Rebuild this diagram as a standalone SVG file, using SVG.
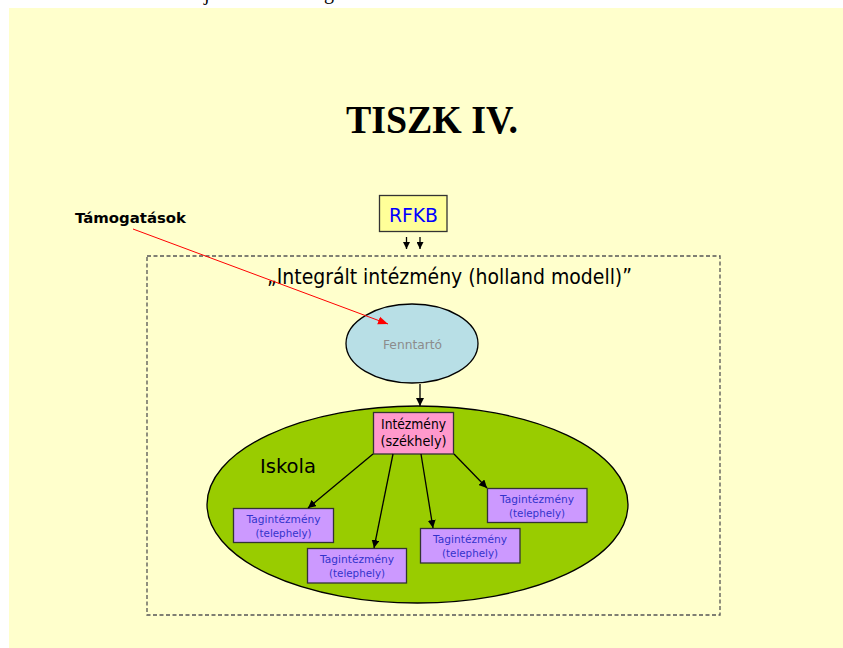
<svg xmlns="http://www.w3.org/2000/svg" width="843" height="648" viewBox="0 0 843 648">
<defs>
<marker id="ah" viewBox="0 0 10 10" refX="10" refY="5" markerWidth="8" markerHeight="8" markerUnits="userSpaceOnUse" orient="auto"><path d="M0,0 L10,5 L0,10 z" fill="#000"/></marker>
<marker id="ahs" viewBox="0 0 10 10" refX="10" refY="5" markerWidth="7" markerHeight="7" markerUnits="userSpaceOnUse" orient="auto"><path d="M0,0 L10,5 L0,10 z" fill="#000"/></marker>
<marker id="ahr" viewBox="0 0 10 10" refX="10" refY="5" markerWidth="10" markerHeight="10" markerUnits="userSpaceOnUse" orient="auto"><path d="M0,1 L10,5 L0,9 z" fill="#FF0000"/></marker>
</defs>
<style>
.sans{font-family:"DejaVu Sans","Liberation Sans",sans-serif}
.tag rect{fill:#CC99FF;stroke:#333;stroke-width:1.3}
.tag text{font-family:"DejaVu Sans","Liberation Sans",sans-serif;font-size:11px;fill:#3333CC;text-anchor:middle}
.conn line{stroke:#000;stroke-width:1.3;fill:none}
.conn line.red{stroke:#FF0000;stroke-width:1}
</style>
<rect x="0" y="0" width="843" height="648" fill="#FFFFFF"/>
<rect x="9" y="8" width="834" height="640" fill="#FFFFCC"/>
<text x="204" y="0" font-family="Liberation Serif,serif" font-size="20" fill="#000">j</text>
<text x="324" y="-1" font-family="Liberation Serif,serif" font-size="20" fill="#000">g</text>
<text x="432" y="133" font-family="Liberation Serif,serif" font-size="40" font-weight="bold" text-anchor="middle" textLength="172" lengthAdjust="spacingAndGlyphs">TISZK IV.</text>
<g id="frame">
<rect x="147" y="256" width="573" height="359" fill="none" stroke="#555" stroke-width="1.3" stroke-dasharray="4,2.5"/>
<text x="267" y="284" class="sans" font-size="21" fill="#000" textLength="365" lengthAdjust="spacingAndGlyphs">„Integrált intézmény (holland modell)”</text>
</g>
<g id="iskola">
<ellipse cx="417.5" cy="504.5" rx="210.5" ry="98.5" fill="#99CC00" stroke="#000" stroke-width="1.3"/>
<text x="260" y="473" class="sans" font-size="19" fill="#000" textLength="56" lengthAdjust="spacingAndGlyphs">Iskola</text>
</g>
<g id="rfkb">
<rect x="379.5" y="195.5" width="67.5" height="36" fill="#FFFF99" stroke="#333" stroke-width="1.3"/>
<text x="413.5" y="221.5" class="sans" font-size="20" fill="#0000FF" text-anchor="middle" textLength="49" lengthAdjust="spacingAndGlyphs">RFKB</text>
</g>
<g id="tamogatasok">
<text x="75" y="223" class="sans" font-size="14" font-weight="bold" fill="#000" textLength="111" lengthAdjust="spacingAndGlyphs">Támogatások</text>
</g>
<g id="fenntarto">
<ellipse cx="412" cy="343.5" rx="66" ry="39.5" fill="#B8DFE6" stroke="#000" stroke-width="1.3"/>
<text x="412.5" y="349" class="sans" font-size="12" fill="#8C8C8C" text-anchor="middle" textLength="59" lengthAdjust="spacingAndGlyphs">Fenntartó</text>
</g>
<g id="intezmeny">
<rect x="373.5" y="412.5" width="80" height="41.5" fill="#FF99CC" stroke="#333" stroke-width="1.3"/>
<text x="413.5" y="429" class="sans" font-size="13.5" fill="#000" text-anchor="middle" textLength="65" lengthAdjust="spacingAndGlyphs">Intézmény</text>
<text x="413.5" y="446" class="sans" font-size="13.5" fill="#000" text-anchor="middle" textLength="66" lengthAdjust="spacingAndGlyphs">(székhely)</text>
</g>
<g id="tag1" class="tag">
<rect x="233.5" y="508.5" width="100" height="34"/>
<text x="283.5" y="523" textLength="74" lengthAdjust="spacingAndGlyphs">Tagintézmény</text>
<text x="283.5" y="537" textLength="56" lengthAdjust="spacingAndGlyphs">(telephely)</text>
</g>
<g id="tag2" class="tag">
<rect x="307.5" y="548.5" width="99" height="34.5"/>
<text x="357" y="563" textLength="74" lengthAdjust="spacingAndGlyphs">Tagintézmény</text>
<text x="357" y="577" textLength="56" lengthAdjust="spacingAndGlyphs">(telephely)</text>
</g>
<g id="tag3" class="tag">
<rect x="420.5" y="528.5" width="99.5" height="34.5"/>
<text x="470" y="543" textLength="74" lengthAdjust="spacingAndGlyphs">Tagintézmény</text>
<text x="470" y="557" textLength="56" lengthAdjust="spacingAndGlyphs">(telephely)</text>
</g>
<g id="tag4" class="tag">
<rect x="487.5" y="488.5" width="99.5" height="34"/>
<text x="537" y="503" textLength="74" lengthAdjust="spacingAndGlyphs">Tagintézmény</text>
<text x="537" y="517" textLength="56" lengthAdjust="spacingAndGlyphs">(telephely)</text>
</g>
<g id="connectors" class="conn">
<line x1="406.5" y1="237" x2="406.5" y2="249" marker-end="url(#ahs)"/>
<line x1="420" y1="237" x2="420" y2="249" marker-end="url(#ahs)"/>
<line x1="420" y1="384" x2="420" y2="406" marker-end="url(#ah)"/>
<line x1="373" y1="454" x2="308" y2="508" marker-end="url(#ah)"/>
<line x1="393" y1="454" x2="374" y2="548" marker-end="url(#ah)"/>
<line x1="421" y1="454" x2="433" y2="528" marker-end="url(#ah)"/>
<line x1="454" y1="454" x2="487" y2="488" marker-end="url(#ah)"/>
<line class="red" x1="133" y1="229" x2="388" y2="324" marker-end="url(#ahr)"/>
</g>
</svg>
